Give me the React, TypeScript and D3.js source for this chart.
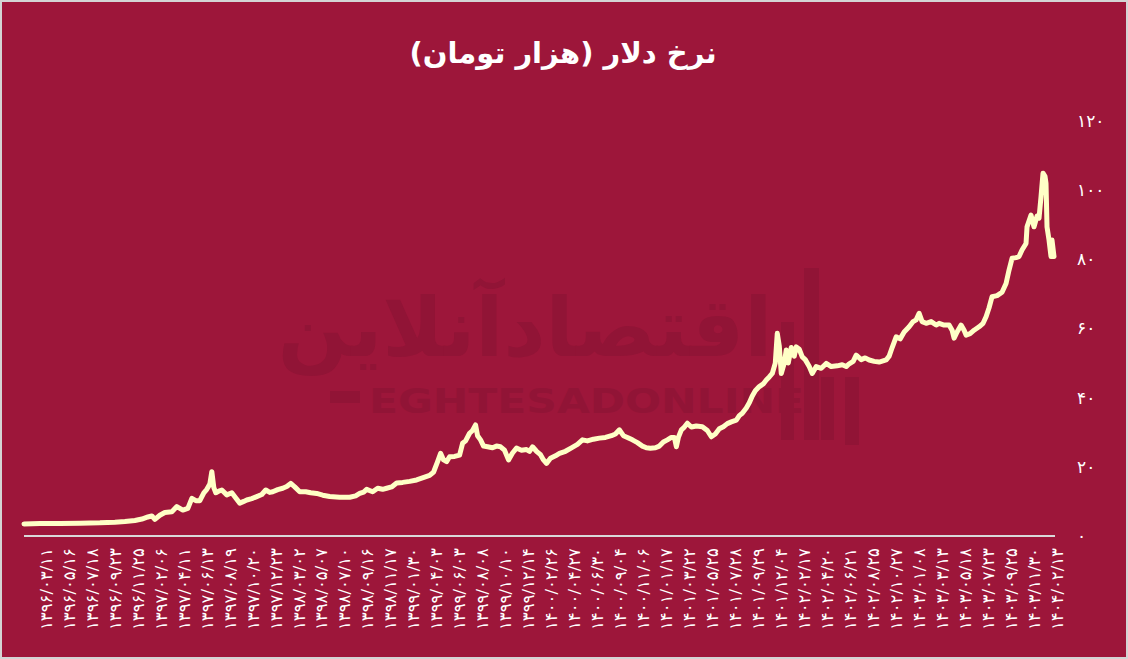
import React from 'react';
import * as d3 from 'd3';

// day index (observation number) and rate in thousand toman
const dayIndex = [
  0, 32, 72, 112, 152, 182, 202, 222, 236, 248, 256, 262, 272, 282, 296, 306, 318, 328, 336, 344,
  352, 360, 366, 372, 376, 380, 384, 390, 396, 406, 416, 424, 432, 440, 446, 456, 466, 476, 484, 492,
  498, 508, 518, 526, 534, 542, 552, 564, 574, 586, 598, 612, 632, 652, 664, 672, 680, 686, 698, 708,
  718, 726, 736, 746, 758, 772, 786, 802, 812, 820, 828, 834, 840, 846, 852, 862, 872, 878, 884, 892,
  898, 904, 908, 914, 920, 928, 938, 946, 954, 962, 970, 978, 986, 996, 1006, 1012, 1018, 1026, 1034, 1040,
  1046, 1054, 1064, 1072, 1084, 1096, 1108, 1118, 1128, 1140, 1152, 1164, 1176, 1184, 1192, 1200, 1208, 1218, 1228, 1238,
  1246, 1254, 1264, 1272, 1280, 1288, 1296, 1302, 1306, 1310, 1316, 1322, 1328, 1336, 1346, 1358, 1368, 1376, 1384, 1392,
  1400, 1408, 1416, 1426, 1432, 1438, 1446, 1452, 1458, 1464, 1472, 1480, 1486, 1492, 1498, 1504, 1508, 1512, 1516, 1522,
  1526, 1530, 1536, 1542, 1546, 1552, 1558, 1564, 1572, 1578, 1586, 1596, 1606, 1616, 1628, 1638, 1646, 1652, 1660, 1666,
  1676, 1684, 1692, 1702, 1712, 1726, 1732, 1738, 1746, 1754, 1762, 1772, 1780, 1786, 1792, 1798, 1806, 1816, 1826, 1832,
  1842, 1852, 1858, 1862, 1868, 1876, 1882, 1886, 1894, 1902, 1912, 1920, 1926, 1932, 1938, 1948, 1958, 1966, 1972, 1978,
  1986, 1992, 1998, 2006, 2008, 2016, 2022, 2028, 2032, 2036, 2040, 2044, 2046, 2048, 2052, 2056, 2058, 2062,
];

const rate = [
  3.5, 3.6, 3.6, 3.7, 3.8, 4.0, 4.2, 4.5, 4.9, 5.5, 5.8, 4.8, 6.0, 6.8, 7.0, 8.5, 7.5, 8.0, 10.9, 10.2,
  10.2, 12.5, 13.5, 15.0, 18.6, 14.0, 12.5, 13.0, 13.3, 11.9, 12.5, 11.0, 9.5, 10.0, 10.4, 10.8, 11.4, 12.0, 13.3, 12.6,
  12.8, 13.4, 13.8, 14.3, 15.2, 14.2, 12.8, 12.8, 12.5, 12.3, 11.8, 11.4, 11.2, 11.2, 11.6, 12.3, 12.7, 13.5, 12.8, 13.8,
  13.5, 13.8, 14.2, 15.3, 15.5, 15.8, 16.2, 17.0, 17.5, 18.5, 21.5, 23.9, 22.0, 21.5, 22.9, 23.0, 23.4, 26.8, 27.5, 29.7,
  30.5, 32.1, 29.0, 27.8, 26.0, 25.8, 25.5, 26.0, 25.8, 24.8, 22.0, 24.0, 25.4, 24.8, 25.0, 24.5, 25.8, 24.5, 23.5, 22.0,
  21.0, 22.5, 23.2, 23.9, 24.5, 25.5, 26.5, 27.8, 27.5, 28.0, 28.3, 28.5, 29.0, 29.5, 30.7, 29.0, 28.5, 27.8, 27.0, 26.0,
  25.5, 25.4, 25.5, 26.0, 27.2, 27.8, 28.5, 28.5, 25.8, 28.5, 30.7, 31.5, 32.6, 31.5, 31.8, 31.6, 30.5, 28.7, 29.5, 31.0,
  31.6, 32.5, 33.0, 33.5, 34.8, 35.5, 37.0, 38.5, 40.5, 42.0, 43.2, 44.0, 45.1, 46.0, 47.0, 50.0, 58.6, 55.0, 47.0, 50.0,
  53.8, 50.0, 54.5, 52.0, 54.7, 54.0, 51.8, 51.0, 49.0, 47.0, 49.0, 48.5, 49.9, 49.0, 49.2, 49.5, 49.0, 49.8, 50.5, 52.3,
  51.0, 51.5, 50.9, 50.5, 50.3, 50.9, 52.0, 54.5, 57.6, 57.0, 59.0, 60.5, 62.0, 62.5, 64.4, 62.0, 61.5, 62.0, 61.0, 61.5,
  61.0, 61.0, 59.5, 57.2, 59.0, 61.0, 59.5, 58.1, 58.5, 59.5, 60.5, 61.5, 63.4, 66.0, 69.2, 69.5, 70.5, 73.0, 76.9, 80.3,
  80.5, 80.8, 82.7, 84.6, 89.4, 92.8, 89.4, 92.5, 91.9, 98.1, 104.9, 104.0, 102.0, 89.4, 85.6, 80.8, 85.6, 80.8,
];

const xTickLabels = [
  '۱۳۹۶/۰۳/۱۱', '۱۳۹۶/۰۵/۱۶', '۱۳۹۶/۰۷/۱۸', '۱۳۹۶/۰۹/۲۳', '۱۳۹۶/۱۱/۲۵',
  '۱۳۹۷/۰۲/۰۶', '۱۳۹۷/۰۴/۱۱', '۱۳۹۷/۰۶/۱۳', '۱۳۹۷/۰۸/۱۹', '۱۳۹۷/۱۰/۲۰',
  '۱۳۹۷/۱۲/۲۳', '۱۳۹۸/۰۳/۰۲', '۱۳۹۸/۰۵/۰۷', '۱۳۹۸/۰۷/۱۰', '۱۳۹۸/۰۹/۱۶',
  '۱۳۹۸/۱۱/۱۷', '۱۳۹۹/۰۱/۳۰', '۱۳۹۹/۰۴/۰۳', '۱۳۹۹/۰۶/۰۳', '۱۳۹۹/۰۸/۰۸',
  '۱۳۹۹/۱۰/۱۰', '۱۳۹۹/۱۲/۱۴', '۱۴۰۰/۰۲/۲۶', '۱۴۰۰/۰۴/۲۷', '۱۴۰۰/۰۶/۳۰',
  '۱۴۰۰/۰۹/۰۴', '۱۴۰۰/۱۱/۰۶', '۱۴۰۱/۰۱/۱۷', '۱۴۰۱/۰۳/۲۲', '۱۴۰۱/۰۵/۲۵',
  '۱۴۰۱/۰۷/۲۸', '۱۴۰۱/۰۹/۲۹', '۱۴۰۱/۱۲/۰۴', '۱۴۰۲/۰۲/۱۷', '۱۴۰۲/۰۴/۲۰',
  '۱۴۰۲/۰۶/۲۱', '۱۴۰۲/۰۸/۲۵', '۱۴۰۲/۱۰/۲۷', '۱۴۰۳/۰۱/۰۸', '۱۴۰۳/۰۳/۱۳',
  '۱۴۰۳/۰۵/۱۸', '۱۴۰۳/۰۷/۲۳', '۱۴۰۳/۰۹/۲۵', '۱۴۰۳/۱۱/۳۰', '۱۴۰۴/۰۲/۱۳',
];
const firstLabelDay = 44;
const labelStepDays = 46;
const lastDay = 2068;

const yTicks = [0, 20, 40, 60, 80, 100, 120];
const title = 'نرخ دلار (هزار تومان)';

const W = 1128;
const H = 659;
const BG = '#9d163a';
const WM = '#911436';
const LINE = '#ffffc6';
const FA = 'DejaVu Sans';

const toFa = (n: number) => String(n).replace(/\d/g, (d) => '۰۱۲۳۴۵۶۷۸۹'[+d]);

export default function App() {
  const x = d3.scaleLinear().domain([0, lastDay]).range([24, 1057]);
  const y = d3.scaleLinear().domain([0, 120]).range([536, 121]);
  const pts: [number, number][] = dayIndex.map((d, i) => [d, rate[i]]);
  const line = d3
    .line<[number, number]>()
    .x((d) => x(d[0]))
    .y((d) => y(d[1]));

  return (
    <svg width={W} height={H} style={{ position: 'absolute', left: 0, top: 0 }}>
      <rect x={0} y={0} width={W} height={H} fill={BG} />
      <rect x={1} y={1} width={W - 2} height={H - 2} fill="none" stroke="#d4d4d4" strokeWidth={2} />

      {/* watermark */}
      <g fill={WM}>
        <text
          x={525}
          y={356}
          textAnchor="middle"
          fontFamily={FA}
          fontWeight="bold"
          fontSize={82}
        >
          {'اقتصادآنلاین'}
        </text>
        <rect x={330} y={391} width={30} height={12} />
        <text
          x={369}
          y={413}
          fontFamily="DejaVu Sans"
          fontWeight="bold"
          fontSize={34}
          textLength={435}
          lengthAdjust="spacingAndGlyphs"
        >
          EGHTESADONLINE
        </text>
        <rect x={781} y={322} width={13} height={118} />
        <rect x={804} y={268} width={15} height={172} />
        <rect x={821} y={377} width={13} height={63} />
        <rect x={845} y={377} width={14} height={68} />
      </g>

      <text
        x={563}
        y={63}
        textAnchor="middle"
        fill="#ffffff"
        fontFamily={FA}
        fontWeight="bold"
        fontSize={29}
      >
        {title}
      </text>

      {/* y axis labels */}
      {yTicks.map((t) => (
        <text
          key={t}
          x={1077}
          y={y(t)}
          dy="0.35em"
          fill="#ffffff"
          fontFamily={FA}
          fontSize={17}
          textAnchor="start"
          style={{ direction: 'ltr' } as any}
        >
          {toFa(t)}
        </text>
      ))}

      {/* x axis */}
      <line x1={24} x2={1055} y1={536} y2={536} stroke="#d9d9d9" strokeWidth={2} />
      {xTickLabels.map((lab, i) => {
        const xp = x(firstLabelDay + i * labelStepDays);
        return (
          <text
            key={i}
            transform={`translate(${xp},548) rotate(-90)`}
            textAnchor="end"
            dy="0.35em"
            fill="#ffffff"
            fontFamily={FA}
            fontSize={16.5}
            style={{ direction: 'ltr' } as any}
          >
            {lab}
          </text>
        );
      })}

      <path
        d={line(pts) || ''}
        fill="none"
        stroke={LINE}
        strokeWidth={5}
        strokeLinejoin="round"
        strokeLinecap="round"
      />
    </svg>
  );
}
